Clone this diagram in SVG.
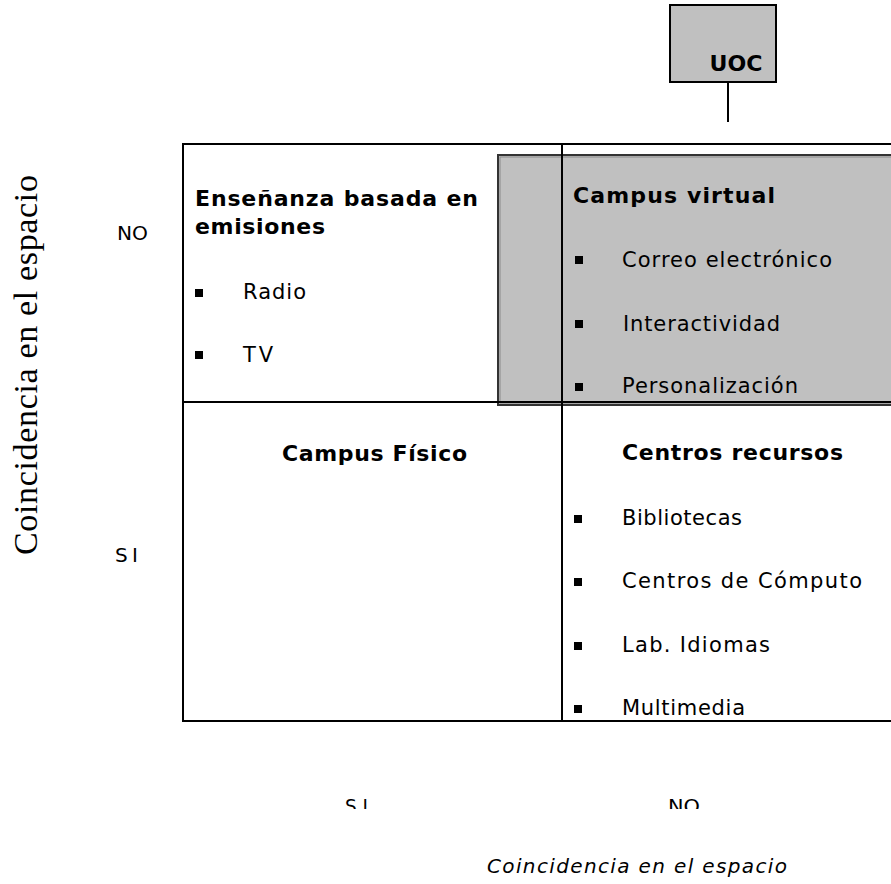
<svg xmlns="http://www.w3.org/2000/svg" width="891" height="884" viewBox="0 0 891 884">
  <defs>
    <style>
      .h { font-family: "DejaVu Sans", Verdana, sans-serif; font-weight: bold; font-size: 22px; fill: #000; }
      .t { font-family: "DejaVu Sans", Verdana, sans-serif; font-size: 21px; fill: #000; }
      .lbl { font-family: "DejaVu Sans", Verdana, sans-serif; font-size: 20px; fill: #000; }
      .b { fill: #000; }
      .grid { fill: none; stroke: #000; stroke-width: 2; }
    </style>
    <clipPath id="clipBottom">
      <rect x="0" y="0" width="891" height="809"/>
    </clipPath>
  </defs>
  <rect width="891" height="884" fill="#fff"/>

  <!-- Highlight box (Campus virtual / UOC region) -->
  <g id="highlight">
    <rect x="498" y="155" width="400" height="250" fill="#c0c0c0" stroke="#333" stroke-width="2"/>
    <rect x="500" y="157" width="396" height="246" fill="none" stroke="#8a8a8a" stroke-width="1"/>
  </g>

  <!-- Grid -->
  <g id="grid">
    <rect class="grid" x="183" y="144" width="720" height="577"/>
    <line class="grid" x1="183" y1="402" x2="895" y2="402"/>
    <line class="grid" x1="562" y1="144" x2="562" y2="721"/>
  </g>

  <!-- Connectors -->
  <g id="connectors">
    <line x1="728" y1="82" x2="728" y2="122" stroke="#000" stroke-width="2"/>
  </g>

  <!-- UOC node -->
  <g id="uoc">
    <rect x="670" y="5" width="106" height="77" fill="#c0c0c0" stroke="#000" stroke-width="2"/>
    <text class="h" x="736" y="71" text-anchor="middle" textLength="53" lengthAdjust="spacingAndGlyphs">UOC</text>
  </g>

  <!-- Quadrant: Enseñanza basada en emisiones -->
  <g id="q-emisiones">
    <text class="h" x="195" y="206" textLength="283" lengthAdjust="spacing">Enseñanza basada en</text>
    <text class="h" x="195" y="234" textLength="130" lengthAdjust="spacing">emisiones</text>
    <rect class="b" x="195" y="289" width="8" height="8"/>
    <text class="t" x="243" y="299" textLength="63" lengthAdjust="spacing">Radio</text>
    <rect class="b" x="195" y="351" width="8" height="8"/>
    <text class="t" x="243" y="362" textLength="30" lengthAdjust="spacing">TV</text>
  </g>

  <!-- Quadrant: Campus virtual -->
  <g id="q-virtual">
    <text class="h" x="573" y="203" textLength="202" lengthAdjust="spacing">Campus virtual</text>
    <rect class="b" x="575" y="256" width="8" height="8"/>
    <text class="t" x="622" y="267" textLength="210" lengthAdjust="spacing">Correo electrónico</text>
    <rect class="b" x="575" y="320" width="8" height="8"/>
    <text class="t" x="623" y="331" textLength="157" lengthAdjust="spacing">Interactividad</text>
    <rect class="b" x="575" y="383" width="8" height="8"/>
    <text class="t" x="622" y="393" textLength="176" lengthAdjust="spacing">Personalización</text>
  </g>

  <!-- Quadrant: Campus Físico -->
  <g id="q-fisico">
    <text class="h" x="282" y="461" textLength="185" lengthAdjust="spacing">Campus Físico</text>
  </g>

  <!-- Quadrant: Centros recursos -->
  <g id="q-recursos">
    <text class="h" x="622" y="460" textLength="221" lengthAdjust="spacing">Centros recursos</text>
    <rect class="b" x="574" y="515" width="8" height="8"/>
    <text class="t" x="622" y="525" textLength="120" lengthAdjust="spacing">Bibliotecas</text>
    <rect class="b" x="574" y="578" width="8" height="8"/>
    <text class="t" x="622" y="588" textLength="240" lengthAdjust="spacing">Centros de Cómputo</text>
    <rect class="b" x="574" y="642" width="8" height="8"/>
    <text class="t" x="622" y="652" textLength="148" lengthAdjust="spacing">Lab. Idiomas</text>
    <rect class="b" x="574" y="705" width="8" height="8"/>
    <text class="t" x="622" y="715" textLength="123" lengthAdjust="spacing">Multimedia</text>
  </g>

  <!-- Axis labels -->
  <g id="axis-y">
    <text transform="translate(37,555) rotate(-90)" x="0" y="0" font-family="'Liberation Serif', 'Times New Roman', serif" font-size="34" fill="#000" textLength="380" lengthAdjust="spacing">Coincidencia en el espacio</text>
    <text class="lbl" x="117" y="240" textLength="31" lengthAdjust="spacingAndGlyphs">NO</text>
    <text class="lbl" x="115" y="562" textLength="23" lengthAdjust="spacing">S I</text>
  </g>

  <g id="axis-x">
    <g clip-path="url(#clipBottom)">
      <text class="lbl" x="345" y="813" font-size="26" textLength="23" lengthAdjust="spacingAndGlyphs">S I</text>
      <text class="lbl" x="668" y="813" font-size="26" textLength="32" lengthAdjust="spacingAndGlyphs">NO</text>
    </g>
    <text class="lbl" x="487" y="873" font-size="21" font-style="italic" textLength="300" lengthAdjust="spacing">Coincidencia en el espacio</text>
  </g>
</svg>
